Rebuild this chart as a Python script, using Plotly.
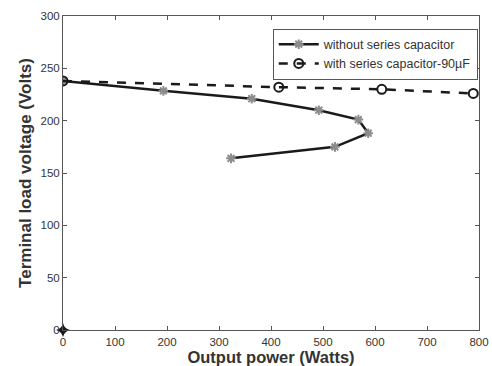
import plotly.graph_objects as go

# Data
power_without = [0, 193, 363, 492, 568, 587, 523, 323]
volt_without = [238, 228.5, 221, 210, 201, 188, 175, 164]

power_with = [0, 415, 613, 789]
volt_with = [238, 232, 230, 226]

origin_power = [0]
origin_volt = [0]

x_ticks = [0, 100, 200, 300, 400, 500, 600, 700, 800]
y_ticks = [0, 50, 100, 150, 200, 250, 300]

fig = go.Figure()
fig.add_trace(go.Scatter(
    x=power_without, y=volt_without, mode="lines+markers",
    name="without series capacitor",
    line=dict(color="#1a1a1a", width=2.5),
    marker=dict(symbol="asterisk-open", size=8, color="#8c8c8c",
                line=dict(color="#8c8c8c", width=2)),
))
fig.add_trace(go.Scatter(
    x=power_with, y=volt_with, mode="lines+markers",
    name="with series capacitor-90\u00b5F",
    line=dict(color="#1a1a1a", width=2.5, dash="dash"),
    marker=dict(symbol="circle-open", size=9, color="#1a1a1a",
                line=dict(color="#1a1a1a", width=2)),
))
fig.add_trace(go.Scatter(
    x=origin_power, y=origin_volt, mode="markers", showlegend=False,
    marker=dict(symbol="star-diamond", size=10, color="#1a1a1a"),
    cliponaxis=False,
))

axis_common = dict(
    showgrid=False, zeroline=False, showline=True, linecolor="#555555",
    linewidth=1, mirror="ticks", ticks="inside", ticklen=4,
    tickcolor="#555555", automargin=False,
    tickfont=dict(family="Liberation Sans, Arial", size=11.5, color="#333333"),
)

fig.update_layout(
    width=492, height=366,
    margin=dict(l=63, r=13, t=16, b=36),
    paper_bgcolor="white", plot_bgcolor="white",
    xaxis=dict(range=[0, 800], tickvals=x_ticks, ticklabelstandoff=1,
               title=dict(text="<b>Output power (Watts)</b>", standoff=3,
                          font=dict(family="Liberation Sans, Arial", size=16.5, color="#333333")),
               **axis_common),
    yaxis=dict(range=[0, 300], tickvals=y_ticks,
               title=dict(text="<b>Terminal load voltage (Volts)</b>", standoff=4,
                          font=dict(family="Liberation Sans, Arial", size=17, color="#333333")),
               **axis_common),
    legend=dict(x=0.997, y=0.96, xanchor="right", yanchor="top",
                bgcolor="white", bordercolor="#555555", borderwidth=1,
                font=dict(family="Liberation Sans, Arial", size=12.5, color="#333333"),
                itemwidth=40, tracegroupgap=0),
    showlegend=True,
)

fig.write_html("out.html")
